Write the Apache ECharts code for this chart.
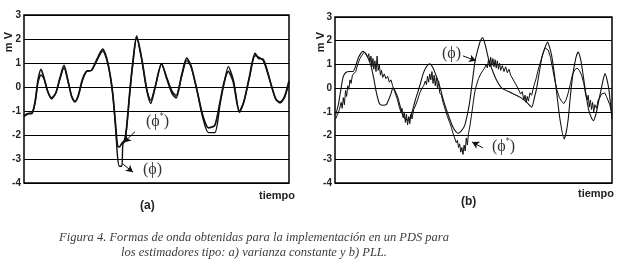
<!DOCTYPE html>
<html>
<head>
<meta charset="utf-8">
<script src="https://cdn.jsdelivr.net/npm/echarts@6/dist/echarts.min.js"></script>
<style>
  html, body { margin: 0; padding: 0; background: #fff; }
  #chart { width: 624px; height: 267px; }
</style>
</head>
<body>
<div id="chart"></div>
<script>
// (a) varianza constante
const tA = [0, 1.5, 3, 4.2, 5.3, 6.4, 7.5, 9, 10.4, 12, 13.5, 15.1, 16.5, 18, 19.2, 20.5, 22, 23.6, 25.5, 27.5,
  29.7, 31.2, 32.5, 33.5, 34.5, 35.3, 36, 36.9, 37.3, 38, 38.7, 40, 41, 42.5, 44.4, 46.3, 47.8, 49.5, 51.9, 54,
  56, 57.4, 59.5, 61.4, 63, 65.2, 67.5, 69.6, 72, 74, 75.5, 77.1, 79, 81.3, 83, 85, 87.2, 88.5, 90.3, 92,
  93.5, 95, 96.6, 98.3, 100];
const phiStarA = [-1.22, -1.12, -1.1, -0.6, 0.3, 0.74, 0.4, -0.2, -0.45, -0.25, 0.35, 0.9, 0.3, -0.4, -0.62, -0.35, 0.3, 0.65, 0.7, 1.15,
  1.58, 1.2, 0.5, -0.3, -1.5, -2.45, -2.5, -2.35, -2.3, -2.2, -1.7, -0.1, 0.95, 2.12, 1.2, -0.1, -0.68, 0.0, 0.98, 0.3,
  -0.3, -0.45, 0.5, 1.2, 0.9, -0.1, -1.2, -1.7, -1.6, -0.6, 0.2, 0.65, 0.2, -1.05, -0.6, 0.4, 1.4, 1.2, 1.15, 0.6,
  0.0, -0.5, -0.66, -0.4, 0.25];
const phiA = [-1.2, -1.1, -1.08, -0.65, 0.2, 0.5, 0.35, -0.2, -0.5, -0.25, 0.3, 0.8, 0.3, -0.4, -0.6, -0.35, 0.25, 0.65, 0.7, 1.1,
  1.5, 1.15, 0.5, -0.3, -1.6, -2.9, -3.3, -3.3, -2.4, -2.25, -1.75, -0.15, 0.9, 2.05, 1.15, -0.1, -0.55, 0.0, 0.95, 0.35,
  -0.2, -0.35, 0.45, 1.1, 0.85, -0.1, -1.3, -1.9, -1.9, -0.7, 0.15, 0.85, 0.3, -1.0, -0.6, 0.35, 1.3, 1.25, 1.1, 0.55,
  0.0, -0.5, -0.62, -0.45, 0.2];

// (b) PLL
const tB = [0.2, 1.2, 2.2, 2.9, 3.8, 5.3, 6.5, 7.5, 8.5, 10.1, 11.2, 12.2, 13.1, 14, 14.9, 15.6, 16.1, 17.3, 18.5, 19.5,
  20.3, 20.9, 21.6, 22.7, 23.6, 24.5, 25.5, 26.4, 27.6, 29, 30.6, 31.8, 33, 34.2, 35.4, 36.6, 38, 39, 40.2, 41.4,
  42.6, 43.8, 44.4, 45.6, 46.8, 47.8, 48.6, 49.5, 50.5, 51.5, 52.5, 53.3, 54.3, 55.4, 56.6, 58.4, 60.2, 63.2, 66.8, 69.2,
  71, 72, 72.8, 74.6, 75.8, 76.7, 77.4, 78.2, 79.2, 80, 81.2, 82.7, 83.4, 84.2, 85, 86, 87, 87.8, 88.7, 89.6,
  90.5, 91.5, 92.4, 93.3, 94.2, 95.1, 96, 96.9, 97.5, 98.8, 100];
const phiB = [-1.15, -0.7, 0.0, 0.45, 0.65, 0.7, 0.7, 0.95, 1.3, 1.55, 1.45, 1.2, 0.9, 0.4, -0.17, -0.5, -0.66, -0.72, -0.7, -0.45,
  -0.2, 0.0, -0.1, -0.4, -0.8, -1.15, -1.3, -1.35, -1.1, -0.5, 0.1, 0.6, 0.9, 1.03, 0.85, 0.5, 0.0, -0.45, -0.9, -1.3,
  -1.65, -1.86, -1.9, -1.8, -1.58, -1.1, -0.6, 0.2, 1.1, 1.6, 2.0, 2.13, 1.8, 1.24, 0.82, 0.32, 0.0, -0.17, -0.38, -0.6,
  -0.8, -0.4, 0.0, 1.24, 1.7, 1.94, 1.75, 1.38, 0.6, -0.17, -1.3, -2.14, -1.9, -1.3, -0.3, 0.68, 1.3, 1.52, 1.2, 0.54,
  -0.2, -0.87, -1.2, -1.37, -1.1, -0.6, -0.1, 0.4, 0.62, 0.0, -1.3];

const tBs = [0.2, 1.0, 1.6, 2.2, 2.6, 3.0, 3.4, 3.8, 4.2, 4.6, 5.0, 5.4, 5.8, 6.3, 6.8, 7.5, 8.2, 9.0, 9.8, 10.6,
  11.2, 11.8, 12.2, 12.6, 13.0, 13.3, 13.7, 14.0, 14.4, 14.8, 15.2, 15.6, 16.0, 16.4, 16.8, 17.2, 17.8, 18.4, 19.0, 19.6,
  20.2, 20.8, 21.4, 22.0, 22.6, 23.2, 23.8, 24.2, 24.6, 25.0, 25.4, 25.8, 26.2, 26.6, 27.0, 27.4, 27.8, 28.4, 29.0, 29.8,
  30.6, 31.4, 32.0, 32.6, 33.0, 33.4, 33.8, 34.2, 34.6, 35.0, 35.4, 35.8, 36.2, 36.6, 37.0, 37.4, 37.8, 38.4, 39.0, 39.8,
  40.6, 41.4, 42.0, 42.6, 43.2, 43.8, 44.2, 44.6, 45.0, 45.4, 45.8, 46.2, 46.6, 47.0, 47.4, 47.8, 48.2, 48.7, 49.2, 49.8,
  50.4, 51.0, 51.8, 52.6, 53.4, 54.0, 54.6, 55.0, 55.4, 55.8, 56.2, 56.6, 57.0, 57.4, 57.8, 58.2, 58.6, 59.0, 59.4, 59.8,
  60.4, 61.0, 61.6, 62.2, 62.8, 63.4, 64.0, 64.6, 65.2, 65.8, 66.4, 67.0, 67.6, 68.2, 68.6, 69.0, 69.4, 69.8, 70.4, 71.0,
  71.8, 72.6, 73.4, 74.2, 75.0, 75.8, 76.4, 77.0, 77.8, 78.6, 79.4, 80.2, 81.0, 81.8, 82.6, 83.4, 84.2, 85.0, 85.8, 86.6,
  87.4, 88.2, 89.0, 89.8, 90.4, 91.0, 91.4, 91.8, 92.2, 92.6, 93.0, 93.4, 93.8, 94.4, 95.0, 95.6, 96.2, 96.8, 97.4, 98.0,
  98.6, 99.2, 100];
const phiStarB = [-1.3, -1.1, -0.9, -0.6, -0.85, -0.4, -0.7, -0.1, -0.35, 0.1, -0.05, 0.35, 0.2, 0.55, 0.5, 0.7, 1.0, 1.25, 1.4, 1.52,
  1.45, 1.3, 1.45, 1.1, 1.35, 0.9, 1.25, 0.8, 1.15, 0.7, 1.35, 0.75, 1.0, 0.55, 0.75, 0.45, 0.6, 0.4, 0.5, 0.25,
  0.35, 0.1, 0.05, -0.3, -0.5, -0.8, -1.0, -0.85, -1.25, -1.0, -1.45, -1.1, -1.55, -1.2, -1.5, -1.1, -1.3, -0.9, -0.75, -0.5,
  -0.2, 0.0, 0.1, 0.3, 0.15, 0.5, 0.25, 0.6, 0.35, 0.7, 0.2, 0.55, 0.1, 0.45, 0.0, 0.3, -0.2, -0.3, -0.6, -0.9,
  -1.2, -1.45, -1.65, -1.9, -2.1, -2.3, -2.2, -2.5, -2.35, -2.7, -2.5, -2.8, -2.4, -2.65, -2.1, -2.4, -1.9, -1.6, -1.2, -0.7,
  -0.2, 0.1, 0.4, 0.6, 0.75, 0.85, 1.0, 0.85, 1.2, 0.9, 1.3, 0.95, 1.25, 0.9, 1.2, 0.85, 1.15, 0.8, 1.05, 0.75,
  0.95, 0.7, 0.9, 0.65, 0.8, 0.55, 0.6, 0.3, 0.35, 0.05, 0.0, -0.25, -0.15, -0.5, -0.3, -0.6, -0.35, -0.55, -0.2, -0.3,
  0.1, 0.4, 0.8, 1.1, 1.45, 1.7, 1.75, 1.6, 1.3, 0.8, 0.3, -0.1, -0.4, -0.55, -0.65, -0.5, -0.2, 0.2, 0.6, 0.78,
  0.85, 0.75, 0.55, 0.2, -0.2, -0.5, -0.3, -0.8, -0.5, -0.9, -0.6, -1.0, -0.7, -0.85, -0.5, -0.4, -0.25, -0.3, -0.2, -0.35,
  -0.4, -0.7, -1.1];

const yTicks = [-4, -3, -2, -1, 0, 1, 2, 3];

const zip = (t, v) => t.map((x, i) => [x, v[i]]);

const chart = echarts.init(document.getElementById('chart'));

const lab = { fontFamily: 'Liberation Sans, Arial', fontWeight: 'bold', fontSize: 10, color: '#222' };
function yAx(grid) {
  return {
    type: 'value', gridIndex: grid, min: -4, max: 3, interval: 1,
    axisLine: { show: false }, axisTick: { show: false },
    axisLabel: Object.assign({ margin: 3, formatter: v => (yTicks.includes(v) ? String(v) : '') }, lab),
    splitLine: { lineStyle: { color: '#000', width: 1.2 } }
  };
}
function xAx(grid) {
  return {
    type: 'value', gridIndex: grid, min: 0, max: 100,
    axisLine: { show: false }, axisTick: { show: false }, axisLabel: { show: false }, splitLine: { show: false }
  };
}
function arrow(from, to) {
  return {
    silent: true, symbol: ['none', 'arrow'], symbolSize: [6, 7],
    lineStyle: { color: '#111', width: 1, type: 'solid' }, label: { show: false },
    data: [[{ coord: from }, { coord: to }]]
  };
}
const line = (name, x, data, w, extra) => Object.assign({
  name, type: 'line', xAxisIndex: x, yAxisIndex: x, data, symbol: 'none',
  lineStyle: { color: '#111', width: w }, animation: false
}, extra || {});

const phiTxt = (x, y, star) => ({
  type: 'text', left: x, top: y, silent: true,
  style: {
    text: star ? '{p|(ϕ}{s|*}{p|)}' : '{p|(ϕ)}',
    rich: {
      p: { fontFamily: 'Liberation Serif, DejaVu Serif', fontSize: 16, fill: '#333' },
      s: { fontFamily: 'DejaVu Sans', fontSize: 8, fill: '#333', padding: [0, 0, 9, 0] }
    }
  }
});
const boldTxt = (txt, x, y, size, rot) => ({
  type: 'text', left: x, top: y, rotation: rot || 0, silent: true,
  style: { text: txt, fontFamily: 'Liberation Sans, Arial', fontWeight: 'bold', fontSize: size, fill: '#222' }
});
const capTxt = (txt, y) => ({
  type: 'text', x: 254, y: y, silent: true,
  style: { text: txt, textAlign: 'center', fontFamily: 'Liberation Serif', fontStyle: 'italic', fontSize: 12.5, fill: '#3c3c3c' }
});

chart.setOption({
  backgroundColor: '#fff',
  animation: false,
  grid: [
    { left: 24, top: 15, width: 265, height: 168, show: true, borderColor: '#000', borderWidth: 1.5, backgroundColor: 'transparent' },
    { left: 335, top: 17, width: 277, height: 166, show: true, borderColor: '#000', borderWidth: 1.5, backgroundColor: 'transparent' }
  ],
  xAxis: [xAx(0), xAx(1)],
  yAxis: [yAx(0), yAx(1)],
  series: [
    line('ϕ', 0, zip(tA, phiA), 1.4, { smooth: 0.25, markLine: arrow([37.0, -3.18], [41.1, -3.55]) }),
    line('ϕ*', 0, zip(tA, phiStarA), 1.7, { smooth: 0.25, markLine: arrow([41.9, -1.86], [37.7, -2.31]) }),
    line('ϕ', 1, zip(tB, phiB), 1.1, { smooth: 0.2, markLine: arrow([46.2, 1.36], [50.9, 1.15]) }),
    line('ϕ*', 1, zip(tBs, phiStarB), 1.0, { markLine: arrow([53.4, -2.52], [49.5, -2.27]) })
  ],
  graphic: [
    boldTxt('m V', 3, 32, 11, Math.PI / 2),
    boldTxt('m V', 315, 32, 11, Math.PI / 2),
    boldTxt('tiempo', 259, 190, 11),
    boldTxt('tiempo', 578, 188, 11),
    boldTxt('(a)', 140, 200, 12),
    boldTxt('(b)', 461, 196, 12),
    phiTxt(146, 113, true),
    phiTxt(143, 162, false),
    phiTxt(442, 46, false),
    phiTxt(492, 138, true),
    capTxt('Figura 4. Formas de onda obtenidas para la implementación en un PDS para', 231),
    capTxt('los estimadores tipo: a) varianza constante y b) PLL.', 246)
  ]
});
</script>
</body>
</html>
